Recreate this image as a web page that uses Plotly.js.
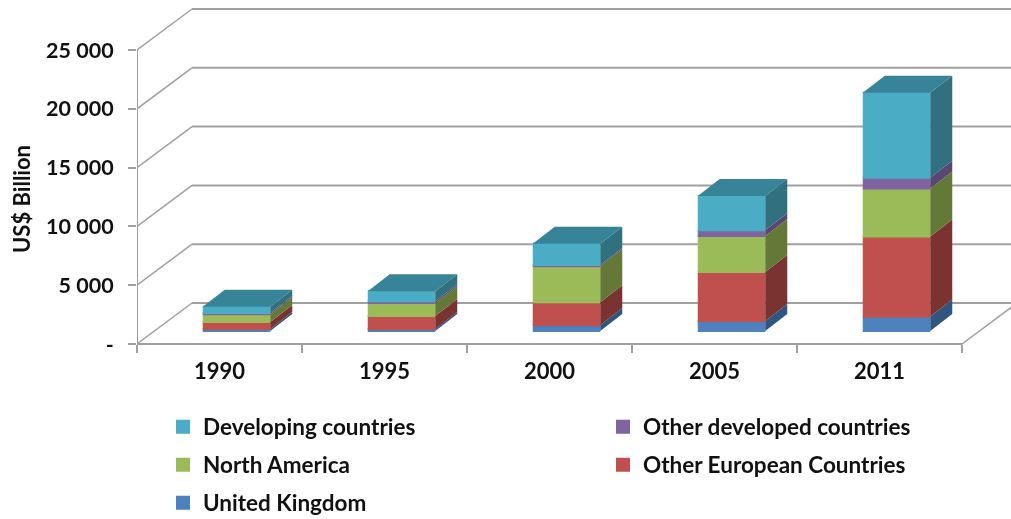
<!DOCTYPE html>
<html><head><meta charset="utf-8">
<script src="https://cdn.plot.ly/plotly-3.0.1.min.js"></script>
<style>html,body{margin:0;padding:0;background:#fff}#chart{filter:blur(0.5px)}</style></head>
<body><div id="chart" style="width:1011px;height:519px"></div>
<script>
const categories = ['1990','1995','2000','2005','2011'];
const unitedKingdom = [170, 180, 510, 850, 1235];
const otherEuropean = [595, 1105, 1930, 4165, 6800];
const northAmerica = [655, 1105, 3060, 3060, 4080];
const otherDeveloped = [110, 145, 110, 485, 910];
const developing = [535, 840, 1815, 2915, 7225];
const yTicks = [0, 5000, 10000, 15000, 20000, 25000];
const yTickText = ['-', '5 000', '10 000', '15 000', '20 000', '25 000'];

const seriesList = [
  {name:'United Kingdom', values:unitedKingdom, front:'#4F81BD', side:'#30557F', legend:'legend5'},
  {name:'Other European Countries', values:otherEuropean, front:'#C0504D', side:'#7B3332', legend:'legend4'},
  {name:'North America', values:northAmerica, front:'#9BBB59', side:'#647838', legend:'legend3'},
  {name:'Other developed countries', values:otherDeveloped, front:'#8064A2', side:'#5A4671', legend:'legend2'},
  {name:'Developing countries', values:developing, front:'#4BACC6', side:'#31707F', legend:'legend'}
];
const topColor = '#378499';

const pxPerCat = 165, pxPerUnit = 58.8/5000;
const plotW = 874, plotH = 398, axisPx = 344;
const cx = p => p/pxPerCat, cy = p => p/pxPerUnit;
const wallDx = cx(55), wallDy = cy(41);
const barDx = cx(17), barDy = cy(13);
const sideDx = cx(22), sideDy = cy(17);
const barW = cx(65.5);
const nCat = categories.length;
const centers = categories.map((_, i) => i + 0.5 + barDx);

const traces = [];
const cum = categories.map(() => barDy);
const sideTraces = [];
seriesList.forEach(s => {
  const base = cum.slice();
  traces.push({type:'bar', name:s.name, x:centers, y:s.values, base:base, width:barW,
    marker:{color:s.front, line:{color:s.front, width:2}}, legend:s.legend, hoverinfo:'skip', showlegend:true});
  const xs = [], ys = [];
  centers.forEach((c, i) => {
    const r = c + barW/2 + cx(1), b = base[i], t = b + s.values[i];
    xs.push(r, r+sideDx, r+sideDx, r, r, null);
    ys.push(b, b+sideDy, t+sideDy, t, b, null);
    cum[i] = t;
  });
  sideTraces.push({type:'scatter', mode:'none', fill:'toself', fillcolor:s.side, x:xs, y:ys, showlegend:false, hoverinfo:'skip'});
});
const tx = [], ty = [];
centers.forEach((c, i) => {
  const l = c - barW/2 - cx(1), r = c + barW/2 + cx(1), t = cum[i];
  tx.push(l, r, r+sideDx, l+sideDx, l, null);
  ty.push(t, t, t+sideDy, t+sideDy, t, null);
});
sideTraces.push({type:'scatter', mode:'none', fill:'toself', fillcolor:topColor, x:tx, y:ty, showlegend:false, hoverinfo:'skip'});

const seg = (x0,y0,x1,y1,w) => ({type:'line', layer:'below', xref:'x', yref:'y', x0,y0,x1,y1, line:{color:'#A0A0A0', width:w}});
const xEnd = plotW/pxPerCat;
const shapes = [];
yTicks.forEach(v => {
  shapes.push(seg(0, v, wallDx, v+wallDy, 1.5));
  shapes.push(seg(wallDx, v+wallDy, xEnd, v+wallDy, 2));
});
shapes.push(seg(0, 0, 0, 25000, 2));
shapes.push(seg(0, 0, nCat, 0, 2));
shapes.push(seg(nCat, 0, nCat+wallDx, wallDy, 1.5));

const family = 'Lato, Carlito, sans-serif';
const legendFont = {family, size:22.5, color:'#111111', weight:700};
const yFont = {family, size:21.5, color:'#111111', weight:700};
const xFont = {family, size:22, color:'#111111', weight:700};
const legendAt = (px, py) => ({xref:'paper', yref:'container', x:(px-137)/plotW, y:1-py/519, xanchor:'left', yanchor:'middle',
  bgcolor:'rgba(0,0,0,0)', font:legendFont, itemclick:false, itemdoubleclick:false, borderwidth:0});

const layout = {
  width:1011, height:519, paper_bgcolor:'#fff', plot_bgcolor:'#fff',
  margin:{l:137, r:0, t:0, b:519-plotH}, barmode:'overlay', showlegend:true,
  xaxis:{type:'linear', range:[0, xEnd], anchor:'free', position:(plotH-axisPx)/plotH,
    tickvals:categories.map((_, i) => i+0.5), ticktext:categories, ticks:'', tickangle:0, showgrid:false, zeroline:false,
    showline:false, tickfont:xFont, ticklabelstandoff:12,
    minor:{tickvals:categories.map((_, i) => i).concat([nCat]), ticks:'outside', ticklen:8, tickwidth:2, tickcolor:'#A0A0A0', showgrid:false}},
  yaxis:{range:[cy(axisPx-plotH), cy(axisPx)], tickvals:yTicks, ticktext:yTickText, ticks:'outside', ticklen:8, tickwidth:2,
    tickcolor:'#A0A0A0', showgrid:false, zeroline:false, showline:false, tickfont:yFont, ticklabelstandoff:10,
    title:{text:'US$ Billion', font:{family, size:22, color:'#111111', weight:700}, standoff:9}},
  shapes:shapes,
  legend:legendAt(163,427), legend2:legendAt(603,427), legend3:legendAt(163,465), legend4:legendAt(603,465), legend5:legendAt(163,503)
};
Plotly.newPlot('chart', traces.concat(sideTraces), layout, {displayModeBar:false, staticPlot:true});
</script></body></html>
